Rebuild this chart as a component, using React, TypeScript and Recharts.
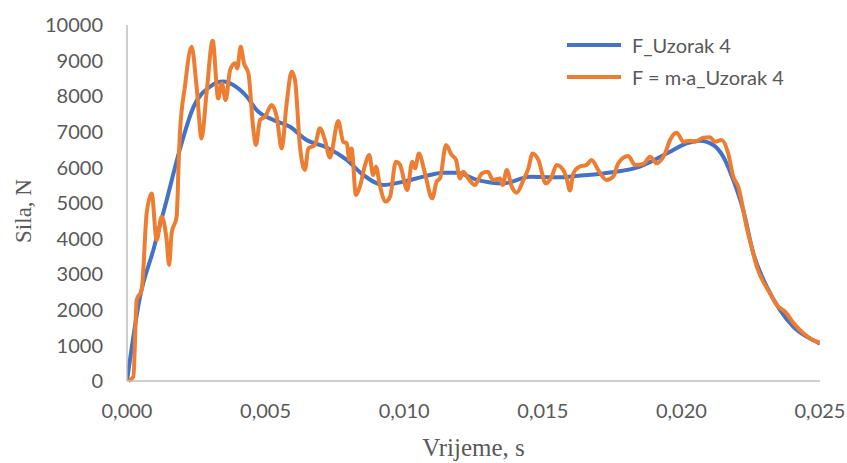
import { Label, Legend, Line, LineChart, XAxis, YAxis } from "recharts";

// F_Uzorak 4 (smooth measured force)
const forceTime = [
  0, 0.00047, 0.00095, 0.00143, 0.0019, 0.0024, 0.003, 0.00347, 0.00383, 0.00432,
  0.00468, 0.00528, 0.00588, 0.00648, 0.0072, 0.00793, 0.00852, 0.00925, 0.00997,
  0.01069, 0.01141, 0.01189, 0.01262, 0.01357, 0.01454, 0.0155, 0.01622, 0.01718,
  0.0185, 0.01947, 0.02019, 0.02067, 0.02115, 0.02151, 0.02187, 0.02223, 0.02259,
  0.02308, 0.02356, 0.02404, 0.02452, 0.025,
];
const forceValues = [
  0, 2370, 3680, 5080, 6490, 7700, 8270, 8410, 8315, 7990,
  7610, 7330, 7140, 6770, 6560, 6210, 5790, 5505, 5600,
  5740, 5850, 5850, 5650, 5550, 5740, 5720, 5760, 5830,
  6020, 6390, 6675, 6750, 6630, 6300, 5650, 4800, 3600,
  2650, 1990, 1525, 1245, 1050,
];

// F = m·a_Uzorak 4
const maTime = [
  0.00005, 0.00023, 0.00035, 0.00053, 0.00071, 0.00089, 0.00107, 0.00125, 0.00143, 0.00152,
  0.00161, 0.00179, 0.00188, 0.00191, 0.00209, 0.00233, 0.00251, 0.00269, 0.00287, 0.00309,
  0.00329, 0.00342, 0.00356, 0.00372, 0.0039, 0.00398, 0.0041, 0.00422, 0.00438, 0.00456,
  0.00465, 0.0048, 0.00498, 0.00522, 0.0054, 0.00558, 0.00576, 0.00594, 0.00606, 0.00624,
  0.00642, 0.00654, 0.00678, 0.00696, 0.00714, 0.00732, 0.00762, 0.0078, 0.00793, 0.00802,
  0.0081, 0.00826, 0.0084, 0.00859, 0.00874, 0.00888, 0.00898, 0.00913, 0.00933, 0.00949,
  0.0097, 0.00985, 0.01011, 0.01029, 0.01039, 0.01053, 0.01075, 0.01101, 0.01117, 0.01129,
  0.01151, 0.01171, 0.01187, 0.01201, 0.01213, 0.01231, 0.01255, 0.0128, 0.01301, 0.01321,
  0.01346, 0.01355, 0.0137, 0.01388, 0.01406, 0.0143, 0.01448, 0.01463, 0.01484, 0.01511,
  0.01532, 0.0155, 0.01574, 0.01586, 0.01598, 0.0161, 0.01632, 0.01658, 0.01676, 0.017,
  0.0173, 0.01754, 0.01772, 0.01808, 0.01833, 0.01863, 0.01887, 0.01911, 0.01941, 0.01959,
  0.01983, 0.02007, 0.02031, 0.02049, 0.02079, 0.02103, 0.02121, 0.02145, 0.02169, 0.02187,
  0.02205, 0.02235, 0.02253, 0.02272, 0.0232, 0.02344, 0.02374, 0.0241, 0.0244, 0.0247,
  0.025,
];
const maValues = [
  0, 120, 2275, 2555, 4710, 5270, 3960, 4615, 3960, 3260,
  4150, 4615, 6490, 6960, 8270, 9390, 8270, 6815, 8080, 9560,
  7940, 8360, 7890, 8735, 8925, 8780, 9390, 8925, 8640, 7050,
  6630, 7330, 7425, 7750, 7425, 6530, 7800, 8690, 8455, 6580,
  5930, 6530, 6630, 7100, 6770, 6280, 7300, 6720, 6675, 6210,
  6530, 5225, 5460, 6070, 6350, 5785, 6020, 5460, 5040, 5180,
  6160, 6070, 5365, 6160, 5975, 6390, 5830, 5130, 5600, 5690,
  6630, 6350, 6210, 5690, 5880, 5690, 5505, 5830, 5880, 5645,
  5690, 5505, 5925, 5460, 5290, 5645, 5975, 6390, 6210, 5550,
  5740, 6070, 5925, 5690, 5350, 5830, 6020, 6070, 6210, 5925,
  5645, 5740, 6115, 6320, 6070, 6095, 6300, 6115, 6390, 6770,
  6975, 6720, 6750, 6720, 6835, 6845, 6720, 6770, 6390, 5740,
  5460, 4335, 3775, 3210, 2460, 2135, 1945, 1575, 1340, 1170,
  1075,
];

const xTicks = [0, 0.005, 0.01, 0.015, 0.02, 0.025];
const yTicks = [0, 1000, 2000, 3000, 4000, 5000, 6000, 7000, 8000, 9000, 10000];

const legendItems = [
  { name: "F_Uzorak 4", color: "#4472C4" },
  { name: "F = m·a_Uzorak 4", color: "#ED7D31" },
];

const forceData = forceTime.map((t, i) => ({ t, v: forceValues[i] }));
const maData = maTime.map((t, i) => ({ t, v: maValues[i] }));

const tickStyle = { fontSize: 20, fill: "#595959", fontFamily: "Lato, sans-serif" };
const titleFont = "'Liberation Serif', 'Times New Roman', serif";

function ChartLegend() {
  return (
    <div style={{ fontFamily: "Lato, sans-serif", fontSize: 20, color: "#595959" }}>
      {legendItems.map((item) => (
        <div key={item.name} style={{ display: "flex", alignItems: "center", height: 32 }}>
          <div style={{ width: 54, height: 4, background: item.color, marginRight: 11 }} />
          <span style={{ whiteSpace: "nowrap" }}>{item.name}</span>
        </div>
      ))}
    </div>
  );
}

export default function App() {
  return (
    <div style={{ position: "absolute", left: 0, top: 0, width: 847, height: 463, background: "#fff" }}>
      <LineChart width={847} height={463} margin={{ top: 25, right: 27, bottom: 0, left: 0 }}>
        <XAxis
          dataKey="t"
          type="number"
          domain={[0, 0.025]}
          ticks={xTicks}
          tickFormatter={(v: number) => v.toFixed(3).replace(".", ",")}
          tick={tickStyle}
          tickLine={false}
          tickMargin={17}
          axisLine={{ stroke: "#BFBFBF", strokeWidth: 1.5 }}
          height={82}
          allowDataOverflow
        >
          <Label
            value="Vrijeme, s"
            position="insideBottom"
            offset={7}
            style={{ fontSize: 25, fill: "#595959", fontFamily: titleFont }}
          />
        </XAxis>
        <YAxis
          type="number"
          domain={[0, 10000]}
          ticks={yTicks}
          tick={tickStyle}
          tickLine={false}
          tickMargin={18}
          axisLine={{ stroke: "#BFBFBF", strokeWidth: 1.5 }}
          width={127}
        >
          <Label
            value="Sila, N"
            angle={-90}
            position="center"
            dx={-41}
            dy={8}
            style={{ fontSize: 23, fill: "#595959", fontFamily: titleFont, textAnchor: "middle" }}
          />
        </YAxis>
        <Legend
          layout="vertical"
          align="center"
          verticalAlign="middle"
          wrapperStyle={{ top: 29, left: 567, width: 270 }}
          content={() => <ChartLegend />}
        />
        <Line
          data={forceData}
          dataKey="v"
          name="F_Uzorak 4"
          type="monotone"
          stroke="#4472C4"
          strokeWidth={4}
          dot={false}
          isAnimationActive={false}
        />
        <Line
          data={maData}
          dataKey="v"
          name="F = m·a_Uzorak 4"
          type="monotone"
          stroke="#ED7D31"
          strokeWidth={4}
          dot={false}
          isAnimationActive={false}
        />
      </LineChart>
    </div>
  );
}
